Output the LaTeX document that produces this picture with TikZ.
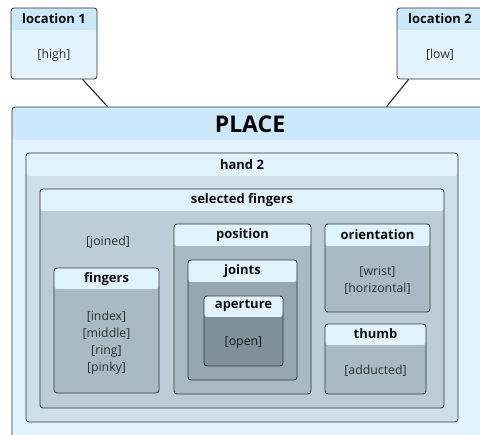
\documentclass[tikz,border=0pt]{standalone}
\usepackage{fontspec}
\setmainfont{Open Sans}
\tikzset{
  frame/.style={draw=black!80, line width=0.8pt, rounded corners=3pt, inner sep=0pt},
  ttl/.style={font=\bfseries\fontsize{13}{15}\selectfont, text=black!95, inner sep=0pt},
  txt/.style={font=\fontsize{12.3}{17}\selectfont, text=black!82, align=center, inner sep=0pt},
  link/.style={draw=black!85, line width=1.1pt}
}
\definecolor{hdrA}{HTML}{CCE9FB}
\definecolor{bodyA}{HTML}{E2F3FD}
\definecolor{hdrB}{HTML}{E1F3FD}
\definecolor{lvl1}{HTML}{CFDFE9}
\definecolor{lvl2}{HTML}{BCCDD8}
\definecolor{lvl3}{HTML}{A9BAC5}
\definecolor{lvl4}{HTML}{96A7B2}
\definecolor{lvl5}{HTML}{7F909B}
% \pbox{name}{x1}{y1}{x2}{y2}{header height}{body colour}{header colour}
\newcommand{\pbox}[8]{%
  \node[frame, fill=#7, minimum width={#4pt-#2pt}, minimum height={#5pt-#3pt},
    path picture={\fill[#8] (path picture bounding box.north west) rectangle
      ([yshift=-#6pt]path picture bounding box.north east);}]
    (#1) at ({(#2+#4)/2},{(#3+#5)/2}) {};}
\begin{document}
\begin{tikzpicture}[x=1pt,y=-1pt]
\useasboundingbox (0,0) rectangle (480,435);
\clip (0,0) rectangle (480,435);
% outer place and locations
\pbox{place}{12}{107}{492}{447}{33}{bodyA}{hdrA}
\node[font=\bfseries\fontsize{23}{26}\selectfont, inner sep=0pt] (placeT) at (250,124) {PLACE};
\pbox{loc1}{11}{8}{97}{79}{22}{bodyA}{hdrA}
\node[ttl] (loc1T) at (54,19) {location 1};
\node[txt] (loc1V) at (54,55) {[high]};
\pbox{loc2}{397}{8}{483}{79}{22}{bodyA}{hdrA}
\node[ttl] (loc2T) at (440,19) {location 2};
\node[txt] (loc2V) at (440,55) {[low]};
\draw[link] ([xshift=72pt]loc1.south west) -- ([xshift=96pt]place.north west);
\draw[link] ([xshift=12pt]loc2.south west) -- ([xshift=375pt]place.north west);
% hand
\pbox{hand}{26}{153}{458}{422}{23}{lvl1}{hdrB}
\node[ttl] (handT) at (242,165) {hand 2};
\pbox{sel}{40}{189}{444}{408}{22}{lvl2}{hdrB}
\node[ttl] (selT) at (242,200) {selected fingers};
\node[txt] (joined) at (108,242) {[joined]};
% fingers
\pbox{fing}{54}{268}{159}{393}{21}{lvl3}{hdrB}
\node[ttl] (fingT) at (106.5,279) {fingers};
\node[txt] (fingV) at (106.5,343) {{[index]}\\{[middle]}\\{[ring]}\\{[pinky]}};
% position > joints > aperture
\pbox{pos}{174}{224}{311}{394}{22}{lvl3}{hdrB}
\node[ttl] (posT) at (242.5,235) {position};
\pbox{joints}{188}{260}{297}{380}{22}{lvl4}{hdrB}
\node[ttl] (jointsT) at (242.5,271) {joints};
\pbox{aper}{204}{296}{283}{366}{21}{lvl5}{hdrB}
\node[ttl] (aperT) at (243.5,306) {aperture};
\node[txt, text=black!90] (aperV) at (243.5,343) {[open]};
% orientation and thumb
\pbox{orient}{325}{224}{430}{312}{22}{lvl3}{hdrB}
\node[ttl] (orientT) at (377.5,235) {orientation};
\node[txt] (orientV) at (377.5,280) {{[wrist]}\\{[horizontal]}};
\pbox{thumb}{325}{324}{426}{394}{21}{lvl3}{hdrB}
\node[ttl] (thumbT) at (375.5,334) {thumb};
\node[txt] (thumbV) at (375.5,371) {[adducted]};
\end{tikzpicture}
\end{document}
